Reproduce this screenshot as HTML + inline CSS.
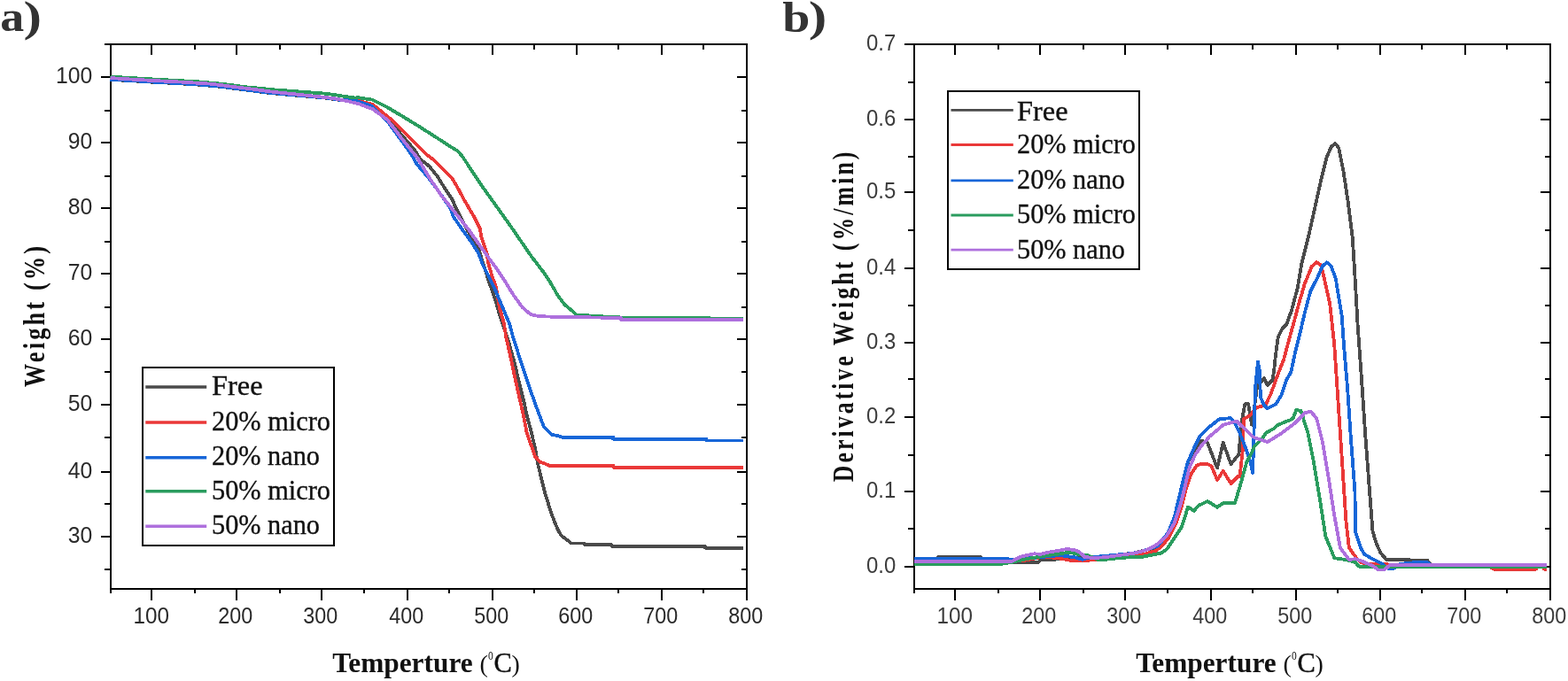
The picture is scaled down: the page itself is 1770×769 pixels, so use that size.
<!DOCTYPE html><html><head><meta charset="utf-8"><title>TGA</title><style>html,body{margin:0;padding:0;background:#fff;overflow:hidden}svg{display:block}</style></head><body>
<svg width="1770" height="769" viewBox="0 0 1770 769">
<rect width="1770" height="769" fill="#fff"/>
<path d="M125,50H843V665H125ZM171,665v13M171,50v12M267,665v13M267,50v12M363,665v13M363,50v12M460,665v13M460,50v12M556,665v13M556,50v12M651,665v13M651,50v12M747,665v13M747,50v12M843,665v13M843,50v12M220,665v5M220,50v6M316,665v5M316,50v6M411,665v5M411,50v6M507,665v5M507,50v6M603,665v5M603,50v6M698,665v5M698,50v6M794,665v5M794,50v6M125,665v5M125,87h-11M843,87h-11M125,161h-11M843,161h-11M125,235h-11M843,235h-11M125,309h-11M843,309h-11M125,383h-11M843,383h-11M125,457h-11M843,457h-11M125,533h-11M843,533h-11M125,606h-11M843,606h-11M125,50h-7M125,125h-7M843,125h-6M125,199h-7M843,199h-6M125,273h-7M843,273h-6M125,347h-7M843,347h-6M125,420h-7M843,420h-6M125,494h-7M843,494h-6M125,569h-7M843,569h-6M125,643h-7M843,643h-6" stroke="#000" stroke-width="2" fill="none" shape-rendering="crispEdges"/>
<path d="M1032,50H1750V665H1032ZM1078,665v13M1078,50v12M1174,665v13M1174,50v12M1270,665v13M1270,50v12M1367,665v13M1367,50v12M1463,665v13M1463,50v12M1558,665v13M1558,50v12M1654,665v13M1654,50v12M1750,665v13M1750,50v12M1127,665v5M1127,50v6M1223,665v5M1223,50v6M1318,665v5M1318,50v6M1414,665v5M1414,50v6M1510,665v5M1510,50v6M1605,665v5M1605,50v6M1701,665v5M1701,50v6M1032,665v5M1032,50h-11M1032,135h-11M1750,135h-11M1032,217h-11M1750,217h-11M1032,303h-11M1750,303h-11M1032,387h-11M1750,387h-11M1032,471h-11M1750,471h-11M1032,555h-11M1750,555h-11M1032,640h-11M1750,640h-11M1032,93h-7M1750,93h-6M1032,177h-7M1750,177h-6M1032,260h-7M1750,260h-6M1032,345h-7M1750,345h-6M1032,428h-7M1750,428h-6M1032,514h-7M1750,514h-6M1032,597h-7M1750,597h-6" stroke="#000" stroke-width="2" fill="none" shape-rendering="crispEdges"/>
<text x="170.8" y="703.6" font-family="Liberation Sans, Arial, sans-serif" font-size="26" fill="#2a2a2a" text-anchor="middle" textLength="40.5" lengthAdjust="spacingAndGlyphs">100</text>
<text x="265.7" y="703.6" font-family="Liberation Sans, Arial, sans-serif" font-size="26" fill="#2a2a2a" text-anchor="middle" textLength="39" lengthAdjust="spacingAndGlyphs">200</text>
<text x="361.7" y="703.6" font-family="Liberation Sans, Arial, sans-serif" font-size="26" fill="#2a2a2a" text-anchor="middle" textLength="39" lengthAdjust="spacingAndGlyphs">300</text>
<text x="458.7" y="703.6" font-family="Liberation Sans, Arial, sans-serif" font-size="26" fill="#2a2a2a" text-anchor="middle" textLength="39" lengthAdjust="spacingAndGlyphs">400</text>
<text x="554.7" y="703.6" font-family="Liberation Sans, Arial, sans-serif" font-size="26" fill="#2a2a2a" text-anchor="middle" textLength="39" lengthAdjust="spacingAndGlyphs">500</text>
<text x="649.7" y="703.6" font-family="Liberation Sans, Arial, sans-serif" font-size="26" fill="#2a2a2a" text-anchor="middle" textLength="39" lengthAdjust="spacingAndGlyphs">600</text>
<text x="745.7" y="703.6" font-family="Liberation Sans, Arial, sans-serif" font-size="26" fill="#2a2a2a" text-anchor="middle" textLength="39" lengthAdjust="spacingAndGlyphs">700</text>
<text x="841.7" y="703.6" font-family="Liberation Sans, Arial, sans-serif" font-size="26" fill="#2a2a2a" text-anchor="middle" textLength="39" lengthAdjust="spacingAndGlyphs">800</text>
<text x="1077.8" y="703.6" font-family="Liberation Sans, Arial, sans-serif" font-size="26" fill="#3c3c3c" text-anchor="middle" textLength="40.5" lengthAdjust="spacingAndGlyphs">100</text>
<text x="1172.7" y="703.6" font-family="Liberation Sans, Arial, sans-serif" font-size="26" fill="#3c3c3c" text-anchor="middle" textLength="39" lengthAdjust="spacingAndGlyphs">200</text>
<text x="1268.7" y="703.6" font-family="Liberation Sans, Arial, sans-serif" font-size="26" fill="#3c3c3c" text-anchor="middle" textLength="39" lengthAdjust="spacingAndGlyphs">300</text>
<text x="1365.7" y="703.6" font-family="Liberation Sans, Arial, sans-serif" font-size="26" fill="#3c3c3c" text-anchor="middle" textLength="39" lengthAdjust="spacingAndGlyphs">400</text>
<text x="1461.7" y="703.6" font-family="Liberation Sans, Arial, sans-serif" font-size="26" fill="#3c3c3c" text-anchor="middle" textLength="39" lengthAdjust="spacingAndGlyphs">500</text>
<text x="1556.7" y="703.6" font-family="Liberation Sans, Arial, sans-serif" font-size="26" fill="#3c3c3c" text-anchor="middle" textLength="39" lengthAdjust="spacingAndGlyphs">600</text>
<text x="1652.7" y="703.6" font-family="Liberation Sans, Arial, sans-serif" font-size="26" fill="#3c3c3c" text-anchor="middle" textLength="39" lengthAdjust="spacingAndGlyphs">700</text>
<text x="1748.7" y="703.6" font-family="Liberation Sans, Arial, sans-serif" font-size="26" fill="#3c3c3c" text-anchor="middle" textLength="39" lengthAdjust="spacingAndGlyphs">800</text>
<text x="104.3" y="612.6" font-family="Liberation Sans, Arial, sans-serif" font-size="26" fill="#2a2a2a" text-anchor="end" textLength="27.5" lengthAdjust="spacingAndGlyphs">30</text>
<text x="104.3" y="539.6" font-family="Liberation Sans, Arial, sans-serif" font-size="26" fill="#2a2a2a" text-anchor="end" textLength="27.5" lengthAdjust="spacingAndGlyphs">40</text>
<text x="104.3" y="463.6" font-family="Liberation Sans, Arial, sans-serif" font-size="26" fill="#2a2a2a" text-anchor="end" textLength="27.5" lengthAdjust="spacingAndGlyphs">50</text>
<text x="104.3" y="389.6" font-family="Liberation Sans, Arial, sans-serif" font-size="26" fill="#2a2a2a" text-anchor="end" textLength="27.5" lengthAdjust="spacingAndGlyphs">60</text>
<text x="104.3" y="315.6" font-family="Liberation Sans, Arial, sans-serif" font-size="26" fill="#2a2a2a" text-anchor="end" textLength="27.5" lengthAdjust="spacingAndGlyphs">70</text>
<text x="104.3" y="241.6" font-family="Liberation Sans, Arial, sans-serif" font-size="26" fill="#2a2a2a" text-anchor="end" textLength="27.5" lengthAdjust="spacingAndGlyphs">80</text>
<text x="104.3" y="167.6" font-family="Liberation Sans, Arial, sans-serif" font-size="26" fill="#2a2a2a" text-anchor="end" textLength="27.5" lengthAdjust="spacingAndGlyphs">90</text>
<text x="104.3" y="93.6" font-family="Liberation Sans, Arial, sans-serif" font-size="26" fill="#2a2a2a" text-anchor="end" textLength="41.3" lengthAdjust="spacingAndGlyphs">100</text>
<text x="1011.3" y="646.6" font-family="Liberation Sans, Arial, sans-serif" font-size="26" fill="#3c3c3c" text-anchor="end" textLength="33.3" lengthAdjust="spacingAndGlyphs">0.0</text>
<text x="1011.3" y="561.6" font-family="Liberation Sans, Arial, sans-serif" font-size="26" fill="#3c3c3c" text-anchor="end" textLength="33.3" lengthAdjust="spacingAndGlyphs">0.1</text>
<text x="1011.3" y="477.6" font-family="Liberation Sans, Arial, sans-serif" font-size="26" fill="#3c3c3c" text-anchor="end" textLength="33.3" lengthAdjust="spacingAndGlyphs">0.2</text>
<text x="1011.3" y="393.6" font-family="Liberation Sans, Arial, sans-serif" font-size="26" fill="#3c3c3c" text-anchor="end" textLength="33.3" lengthAdjust="spacingAndGlyphs">0.3</text>
<text x="1011.3" y="309.6" font-family="Liberation Sans, Arial, sans-serif" font-size="26" fill="#3c3c3c" text-anchor="end" textLength="33.3" lengthAdjust="spacingAndGlyphs">0.4</text>
<text x="1011.3" y="223.6" font-family="Liberation Sans, Arial, sans-serif" font-size="26" fill="#3c3c3c" text-anchor="end" textLength="33.3" lengthAdjust="spacingAndGlyphs">0.5</text>
<text x="1011.3" y="141.6" font-family="Liberation Sans, Arial, sans-serif" font-size="26" fill="#3c3c3c" text-anchor="end" textLength="33.3" lengthAdjust="spacingAndGlyphs">0.6</text>
<text x="1011.3" y="56.6" font-family="Liberation Sans, Arial, sans-serif" font-size="26" fill="#3c3c3c" text-anchor="end" textLength="33.3" lengthAdjust="spacingAndGlyphs">0.7</text>
<text transform="translate(375.2,758.6) scale(1.022,1)" font-family="Liberation Serif, Times New Roman, serif" font-size="30.7" font-weight="bold" fill="#111">Temperture</text>
<text x="541.6" y="758.8" font-family="Liberation Serif, Times New Roman, serif" font-size="28" fill="#111">(</text>
<text transform="translate(550.9,745.4) scale(0.82,1.3)" font-family="Liberation Serif, Times New Roman, serif" font-size="14" fill="#111">o</text>
<text x="557.5" y="758.6" font-family="Liberation Serif, Times New Roman, serif" font-size="30.5" fill="#111" stroke="#111" stroke-width="0.4">C</text>
<text x="577.4" y="758.8" font-family="Liberation Serif, Times New Roman, serif" font-size="28" fill="#111">)</text>
<text transform="translate(1282.2,758.6) scale(1.022,1)" font-family="Liberation Serif, Times New Roman, serif" font-size="30.7" font-weight="bold" fill="#111">Temperture</text>
<text x="1448.6" y="758.8" font-family="Liberation Serif, Times New Roman, serif" font-size="28" fill="#111">(</text>
<text transform="translate(1457.9,745.4) scale(0.82,1.3)" font-family="Liberation Serif, Times New Roman, serif" font-size="14" fill="#111">o</text>
<text x="1464.5" y="758.6" font-family="Liberation Serif, Times New Roman, serif" font-size="30.5" fill="#111" stroke="#111" stroke-width="0.4">C</text>
<text x="1484.4" y="758.8" font-family="Liberation Serif, Times New Roman, serif" font-size="28" fill="#111">)</text>
<text transform="translate(50.2,356.0) rotate(-90) scale(0.8,1)" font-family="Liberation Serif, Times New Roman, serif" font-size="33" fill="#111" font-weight="bold" text-anchor="middle" letter-spacing="3.9">Weight (%)</text>
<text transform="translate(963.2,356.4) rotate(-90) scale(0.77,1)" font-family="Liberation Serif, Times New Roman, serif" font-size="33.5" fill="#111" font-weight="bold" text-anchor="middle" letter-spacing="4">Derivative Weight (%/min)</text>
<text transform="translate(0.2,34.7) scale(1.1,1)" font-family="Liberation Serif, Times New Roman, serif" font-size="49" font-weight="bold" fill="#333">a</text>
<text transform="translate(26.5,34.7) scale(1.26,1)" font-family="Liberation Serif, Times New Roman, serif" font-size="49" font-weight="bold" fill="#333">)</text>
<text transform="translate(883.3,35.8) scale(1.14,1)" font-family="Liberation Serif, Times New Roman, serif" font-size="49" font-weight="bold" fill="#333">b</text>
<text transform="translate(912.8,35.2) scale(1.26,1)" font-family="Liberation Serif, Times New Roman, serif" font-size="49" font-weight="bold" fill="#333">)</text>
<polyline points="124.5,89.9 150.0,91.4 175.0,92.9 200.0,94.2 225.0,95.7 250.0,98.0 275.0,101.2 300.0,104.5 325.0,106.9 350.0,109.0 370.0,110.9 385.0,113.2 400.0,114.3 405.0,115.5 422.3,120.3 447.6,145.7 467.9,169.3 474.7,180.0 484.8,187.9 493.4,198.7 501.2,211.2 510.6,225.3 513.7,233.1 519.9,245.5 529.3,262.7 538.7,276.8 544.0,293.0 552.1,318.6 558.6,336.8 563.8,355.0 574.3,386.5 580.8,409.9 586.0,432.0 591.2,452.8 595.0,470.0 599.5,486.9 604.1,506.4 607.3,524.6 611.3,541.0 615.6,558.2 618.9,568.6 622.1,579.0 626.0,589.4 629.9,598.5 633.8,605.0 641.6,610.9 644.9,613.5 659.0,613.5 659.8,615.2 690.0,615.2 691.0,617.0 796.0,617.0 796.0,618.6 838.7,618.6" fill="none" stroke="#4a4a4a" stroke-width="3.8" stroke-linejoin="round" shape-rendering="crispEdges"/>
<polyline points="124.5,88.6 170.8,91.2 204.7,92.9 238.6,95.0 260.0,97.7 287.0,101.1 305.2,103.6 323.3,105.6 341.4,107.4 359.5,109.4 377.5,111.4 391.1,113.6 406.5,114.2 413.7,116.2 420.6,117.8 444.3,137.2 461.2,154.1 481.5,174.4 488.7,180.0 498.4,189.6 510.6,201.8 515.3,209.7 524.6,226.8 535.5,245.5 541.8,258.0 543.3,267.4 546.5,276.8 549.6,286.1 551.1,297.0 556.0,313.4 559.9,323.8 563.8,347.2 569.0,365.4 571.1,380.0 575.6,399.5 580.8,424.2 586.0,447.6 591.1,470.0 594.3,486.9 599.5,502.5 604.1,515.5 609.9,522.0 615.1,523.6 620.3,525.9 692.7,525.9 692.7,527.8 838.8,527.8" fill="none" stroke="#ea3838" stroke-width="3.8" stroke-linejoin="round" shape-rendering="crispEdges"/>
<polyline points="124.5,89.7 150.0,91.2 175.0,92.7 200.0,94.0 225.0,95.5 250.0,97.8 275.0,101.0 300.0,104.3 325.0,106.7 350.0,108.8 370.0,110.7 385.0,113.0 392.9,111.7 402.0,114.0 409.2,116.2 420.0,119.8 422.3,122.0 437.5,137.2 451.0,155.8 464.5,174.4 470.0,184.7 483.0,200.0 498.0,220.0 509.0,236.2 511.4,244.0 519.9,256.5 532.4,273.6 540.2,286.1 544.9,298.6 548.2,305.6 558.6,326.4 569.0,351.1 575.5,366.7 578.9,380.0 586.0,402.1 593.8,425.5 600.3,445.0 606.8,463.2 613.8,481.7 622.9,490.8 629.4,492.1 634.3,493.6 692.0,493.6 692.0,495.6 797.3,495.6 797.3,497.5 838.8,497.5" fill="none" stroke="#1766d8" stroke-width="3.8" stroke-linejoin="round" shape-rendering="crispEdges"/>
<polyline points="124.5,86.6 150.0,88.1 175.0,89.6 200.0,90.9 225.0,92.4 250.0,94.7 280.0,98.5 310.0,101.4 340.0,103.6 370.0,105.9 400.0,110.5 404.7,110.3 420.0,112.6 435.8,120.3 452.7,130.4 469.6,140.6 488.2,152.4 505.1,163.4 516.5,170.5 522.0,176.7 532.4,192.5 544.9,211.2 560.5,233.1 576.1,254.9 590.0,275.2 600.2,290.0 613.2,306.9 621.0,318.6 630.0,334.2 637.5,344.3 640.0,346.0 650.7,355.4 670.0,356.8 700.0,358.4 751.5,358.6 839.0,360.0" fill="none" stroke="#2a9c5e" stroke-width="3.8" stroke-linejoin="round" shape-rendering="crispEdges"/>
<polyline points="124.5,88.1 170.8,90.9 204.7,92.6 238.6,94.7 260.0,97.5 287.0,100.9 305.2,103.4 323.3,105.4 341.4,107.2 359.5,109.2 377.5,111.2 391.1,114.0 404.7,117.1 413.7,120.7 420.6,123.0 437.5,135.5 454.4,157.5 471.3,178.5 486.5,203.5 498.1,220.6 510.6,236.2 516.8,244.0 529.3,259.6 540.2,275.2 548.0,286.1 555.8,297.0 558.6,300.4 569.0,316.0 579.4,332.9 589.8,347.2 598.9,355.0 608.0,357.0 619.7,357.6 701.0,359.0 701.0,361.0 839.0,361.0" fill="none" stroke="#ae70dd" stroke-width="3.8" stroke-linejoin="round" shape-rendering="crispEdges"/>
<polyline points="1032.0,631.5 1058.0,631.5 1059.0,629.0 1107.0,629.0 1108.0,631.0 1130.0,632.5 1142.0,634.7 1172.0,634.7 1175.0,632.2 1188.0,632.2 1200.0,630.5 1240.0,629.0 1280.0,624.5 1307.5,617.5 1319.0,601.5 1325.8,584.6 1330.8,564.3 1335.9,542.3 1341.0,522.0 1346.8,510.8 1356.4,497.6 1363.0,499.8 1374.1,528.5 1380.7,499.8 1389.5,524.1 1398.4,513.0 1401.4,477.7 1405.3,456.3 1409.2,456.3 1413.1,479.7 1416.0,460.0 1419.0,436.8 1426.8,427.0 1430.7,434.8 1436.5,429.0 1438.5,415.3 1439.2,407.5 1441.0,392.9 1442.8,380.2 1447.4,371.1 1452.8,365.6 1458.3,349.2 1464.7,325.5 1469.2,298.2 1473.8,280.0 1477.5,265.2 1484.3,234.7 1491.0,204.3 1497.8,177.2 1502.9,165.4 1507.3,162.0 1511.3,167.1 1516.6,194.1 1521.7,228.0 1526.8,268.6 1530.1,322.7 1532.5,365.0 1537.8,439.7 1541.1,489.4 1546.1,555.7 1549.5,600.0 1553.4,613.0 1558.6,624.7 1565.0,631.8 1591.0,631.8 1592.0,632.5 1611.0,632.5 1615.0,637.5 1746.0,637.5" fill="none" stroke="#4a4a4a" stroke-width="3.8" stroke-linejoin="round" shape-rendering="crispEdges"/>
<polyline points="1032.0,633.0 1150.0,633.0 1155.4,633.0 1165.6,631.2 1174.0,629.3 1191.9,629.7 1207.2,632.6 1230.1,632.6 1281.8,627.5 1293.6,625.4 1298.7,623.7 1305.4,621.8 1312.3,615.3 1318.9,608.2 1327.4,591.3 1334.1,571.0 1339.2,550.7 1344.3,535.5 1351.0,525.4 1356.1,523.7 1363.0,524.1 1367.4,526.3 1374.1,541.7 1380.7,531.8 1389.5,546.1 1398.4,537.3 1399.5,538.1 1402.8,508.6 1403.9,473.3 1411.6,468.8 1415.1,464.1 1419.0,460.2 1428.7,457.3 1434.6,444.6 1442.4,423.1 1449.2,405.7 1454.6,385.6 1460.1,365.6 1466.5,341.9 1472.9,320.1 1480.9,300.7 1486.0,296.3 1491.0,299.0 1494.4,312.5 1501.2,343.0 1506.3,390.0 1509.6,439.7 1512.9,489.4 1516.2,539.2 1519.5,588.9 1522.9,618.7 1530.0,628.6 1535.2,634.4 1540.4,636.4 1548.0,637.0 1554.7,637.0 1600.0,638.5 1680.0,639.5 1686.0,642.6 1734.0,642.6 1735.0,640.0 1742.0,640.0 1743.0,642.6 1746.0,642.6" fill="none" stroke="#ea3838" stroke-width="3.8" stroke-linejoin="round" shape-rendering="crispEdges"/>
<polyline points="1032.0,631.0 1090.0,631.0 1150.0,631.5 1196.2,627.1 1213.1,629.2 1221.6,631.8 1225.8,630.5 1241.1,628.4 1259.7,626.7 1276.7,625.0 1286.8,623.1 1306.9,616.7 1318.7,601.5 1325.5,584.6 1330.5,564.3 1335.6,542.3 1340.7,522.0 1347.5,506.8 1354.2,493.1 1365.2,482.1 1376.3,473.3 1389.5,472.1 1393.9,477.7 1398.4,486.5 1407.2,508.6 1411.6,521.9 1414.1,534.2 1417.0,438.7 1420.0,408.5 1421.9,419.2 1422.9,448.5 1426.8,457.3 1430.7,461.2 1440.4,456.3 1446.3,446.5 1452.1,429.0 1457.4,420.0 1461.9,398.4 1467.4,376.5 1472.9,352.9 1479.2,329.2 1487.7,312.5 1492.7,300.7 1497.8,296.3 1502.9,300.7 1508.0,315.9 1514.7,356.5 1517.0,390.0 1521.2,439.7 1524.5,489.4 1529.5,555.7 1530.0,600.0 1532.6,607.8 1536.5,619.5 1540.4,626.0 1546.9,629.9 1556.0,634.4 1560.0,636.4 1567.0,642.0 1573.0,642.0 1580.0,637.0 1600.0,634.8 1611.0,634.8 1615.0,637.8 1746.0,637.8" fill="none" stroke="#1766d8" stroke-width="3.8" stroke-linejoin="round" shape-rendering="crispEdges"/>
<polyline points="1032.0,636.9 1130.0,636.9 1142.0,635.0 1151.0,632.9 1159.7,631.0 1169.8,629.3 1183.5,627.1 1196.2,625.4 1207.2,623.7 1215.7,625.8 1227.5,627.1 1241.1,632.6 1251.3,631.4 1268.2,629.7 1289.4,628.8 1302.1,626.3 1310.6,624.6 1317.2,620.1 1327.4,604.9 1334.1,594.7 1338.4,581.2 1340.9,572.7 1344.3,574.4 1347.7,577.0 1352.7,571.0 1363.0,566.0 1374.1,572.7 1380.7,568.2 1393.9,568.2 1400.6,546.1 1407.2,521.9 1413.1,510.9 1416.0,504.2 1424.8,495.3 1429.3,488.7 1438.5,483.6 1442.5,479.9 1452.1,475.8 1456.6,474.5 1459.9,471.9 1463.2,462.9 1468.7,464.1 1471.6,473.8 1476.5,489.4 1483.1,522.6 1489.7,562.4 1496.3,605.4 1506.3,630.3 1519.5,632.0 1530.0,635.0 1533.9,639.6 1543.0,640.3 1746.0,640.3" fill="none" stroke="#2a9c5e" stroke-width="3.8" stroke-linejoin="round" shape-rendering="crispEdges"/>
<polyline points="1032.0,634.0 1142.0,634.0 1150.3,629.5 1157.0,627.4 1167.3,625.3 1175.0,625.8 1183.5,623.7 1193.6,622.0 1204.7,619.9 1213.1,621.2 1217.4,622.9 1220.8,625.4 1224.2,628.8 1234.3,630.1 1247.0,629.2 1265.7,626.7 1280.9,624.6 1293.6,621.2 1301.9,617.5 1308.7,612.7 1317.0,604.9 1325.5,591.3 1332.2,571.0 1337.3,550.7 1342.4,528.8 1349.2,513.5 1356.1,503.4 1365.2,493.1 1380.7,479.9 1396.1,475.5 1402.8,482.1 1413.8,493.1 1419.0,495.3 1430.7,499.2 1446.3,489.4 1461.9,477.7 1473.1,466.2 1479.8,464.6 1486.4,472.9 1493.0,499.4 1499.7,539.2 1506.3,582.2 1512.9,618.7 1522.9,632.0 1530.0,631.2 1537.8,633.8 1549.5,639.0 1556.0,643.5 1562.5,643.5 1567.7,639.0 1569.0,637.7 1746.0,637.7" fill="none" stroke="#ae70dd" stroke-width="3.8" stroke-linejoin="round" shape-rendering="crispEdges"/>
<rect x="161" y="415" width="216" height="201" fill="#fff" stroke="#000" stroke-width="2" shape-rendering="crispEdges"/>
<path d="M164.3,437H233.2" stroke="#4a4a4a" stroke-width="3.6"/>
<text x="239" y="446.4" font-family="Liberation Serif, Times New Roman, serif" font-size="30.5" fill="#111" stroke="#111" stroke-width="0.35" textLength="57.5" lengthAdjust="spacingAndGlyphs">Free</text>
<path d="M164.3,477H233.2" stroke="#ea3838" stroke-width="3.6"/>
<text x="239" y="485.8" font-family="Liberation Serif, Times New Roman, serif" font-size="30.5" fill="#111" stroke="#111" stroke-width="0.35" textLength="134" lengthAdjust="spacingAndGlyphs">20% micro</text>
<path d="M164.3,516.8H233.2" stroke="#1766d8" stroke-width="3.6"/>
<text x="239" y="525.3" font-family="Liberation Serif, Times New Roman, serif" font-size="30.5" fill="#111" stroke="#111" stroke-width="0.35" textLength="122" lengthAdjust="spacingAndGlyphs">20% nano</text>
<path d="M164.3,554.8H233.2" stroke="#2a9c5e" stroke-width="3.6"/>
<text x="239" y="564.2" font-family="Liberation Serif, Times New Roman, serif" font-size="30.5" fill="#111" stroke="#111" stroke-width="0.35" textLength="134" lengthAdjust="spacingAndGlyphs">50% micro</text>
<path d="M164.3,594.2H233.2" stroke="#ae70dd" stroke-width="3.6"/>
<text x="239" y="602.7" font-family="Liberation Serif, Times New Roman, serif" font-size="30.5" fill="#111" stroke="#111" stroke-width="0.35" textLength="122" lengthAdjust="spacingAndGlyphs">50% nano</text>
<rect x="1070" y="103" width="216" height="201" fill="#fff" stroke="#000" stroke-width="2" shape-rendering="crispEdges"/>
<path d="M1073.5,124.4H1143.8" stroke="#4a4a4a" stroke-width="2.8"/>
<text x="1148" y="135.5" font-family="Liberation Serif, Times New Roman, serif" font-size="30.5" fill="#111" stroke="#111" stroke-width="0.35" textLength="57.5" lengthAdjust="spacingAndGlyphs">Free</text>
<path d="M1073.5,163.5H1143.8" stroke="#ea3838" stroke-width="2.8"/>
<text x="1148" y="173.4" font-family="Liberation Serif, Times New Roman, serif" font-size="30.5" fill="#111" stroke="#111" stroke-width="0.35" textLength="134" lengthAdjust="spacingAndGlyphs">20% micro</text>
<path d="M1073.5,203.8H1143.8" stroke="#1766d8" stroke-width="2.8"/>
<text x="1148" y="212.8" font-family="Liberation Serif, Times New Roman, serif" font-size="30.5" fill="#111" stroke="#111" stroke-width="0.35" textLength="122" lengthAdjust="spacingAndGlyphs">20% nano</text>
<path d="M1073.5,243H1143.8" stroke="#2a9c5e" stroke-width="2.8"/>
<text x="1148" y="252.3" font-family="Liberation Serif, Times New Roman, serif" font-size="30.5" fill="#111" stroke="#111" stroke-width="0.35" textLength="134" lengthAdjust="spacingAndGlyphs">50% micro</text>
<path d="M1073.5,282.2H1143.8" stroke="#ae70dd" stroke-width="2.8"/>
<text x="1148" y="291.9" font-family="Liberation Serif, Times New Roman, serif" font-size="30.5" fill="#111" stroke="#111" stroke-width="0.35" textLength="122" lengthAdjust="spacingAndGlyphs">50% nano</text>
</svg></body></html>
